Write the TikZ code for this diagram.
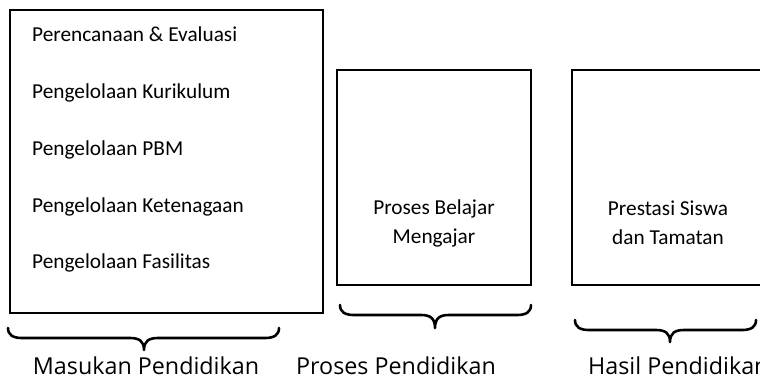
\documentclass[tikz,border=0pt]{standalone}
\usepackage{fontspec}
\setmainfont{Carlito}
\newfontfamily\labelfont{Open Sans}
\tikzset{
  panel/.style={draw=black, line width=1.6bp, fill=white},
  itemtext/.style={anchor=base west, inner sep=0pt, font=\fontsize{21.3bp}{25bp}\selectfont},
  boxtext/.style={align=center, inner sep=0pt, font=\fontsize{21.3bp}{29bp}\selectfont},
  caption/.style={anchor=base, inner sep=0pt, font=\labelfont\fontsize{23.3bp}{27bp}\selectfont},
  bracestroke/.style={draw=black, line width=2.6bp, line cap=round, line join=round}
}
% curly brace: left x, right x, tip x, end y, bar y, tip y
\newcommand\curlybrace[6]{%
  \draw[bracestroke] (#1,#4) .. controls (#1,{#5-3}) and ({#1+5},#5) .. ({#1+14},#5)
    -- ({#3-14},#5) .. controls ({#3-5},#5) and (#3,{#5+3}) .. (#3,#6)
    .. controls (#3,{#5+3}) and ({#3+5},#5) .. ({#3+14},#5)
    -- ({#2-14},#5) .. controls ({#2-5},#5) and (#2,{#5-3}) .. (#2,#4);}
\begin{document}
\begin{tikzpicture}[x=1bp, y=-1bp]
\clip (0,0) rectangle (760,378);
\fill[white] (0,0) rectangle (760,378);

% input box with its five management areas
\draw[panel] (10,10) rectangle (323,313);
\node[itemtext] (i1) at (32,41)  {Perencanaan \& Evaluasi};
\node[itemtext] (i2) at (32,98)  {Pengelolaan Kurikulum};
\node[itemtext] (i3) at (32,155) {Pengelolaan PBM};
\node[itemtext] (i4) at (32,212) {Pengelolaan Ketenagaan};
\node[itemtext] (i5) at (32,268) {Pengelolaan Fasilitas};

% process box
\draw[panel] (337,70) rectangle (531,285);
\node[boxtext] (proc) at (434,223) {Proses Belajar\\Mengajar};

% output box (runs past the right edge)
\draw[panel] (572,70) rectangle (780,285);
\node[boxtext] (hasil) at (668,223) {Prestasi Siswa\\dan Tamatan};

% braces under the boxes
\curlybrace{8}{279}{144}{328}{338}{350}
\curlybrace{340}{531}{435}{305}{315}{328}
\curlybrace{575}{756}{670}{320}{330}{342}

% captions
\node[caption] (c1) at (146,374) {Masukan Pendidikan};
\node[caption] (c2) at (396,374) {Proses Pendidikan};
\node[caption, anchor=base west] (c3) at (588,374) {Hasil Pendidikan};
\end{tikzpicture}
\end{document}
